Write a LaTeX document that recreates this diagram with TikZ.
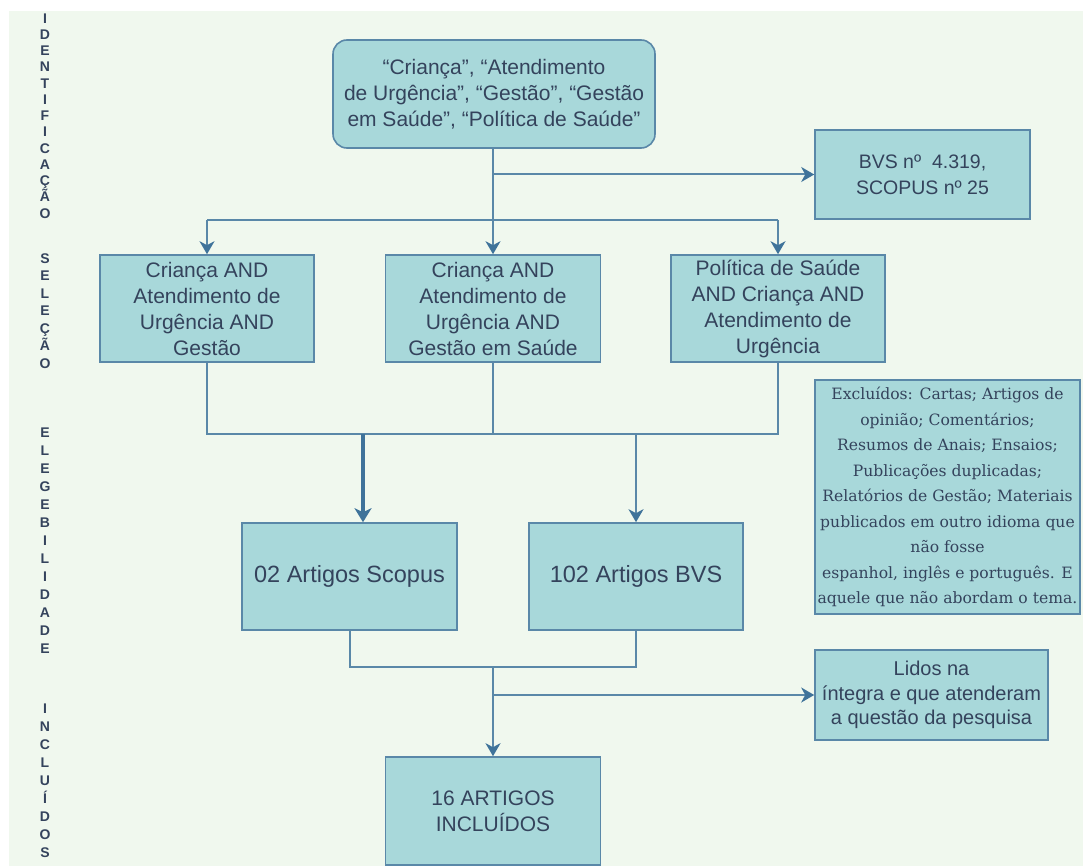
\documentclass[tikz,border=0pt]{standalone}
\usepackage{fontspec}
\setmainfont{Liberation Sans}
\newfontfamily\serifx{DejaVu Serif}
\usetikzlibrary{arrows.meta}
\definecolor{bgc}{HTML}{F0F8EE}
\definecolor{boxc}{HTML}{A8D8DA}
\definecolor{edgec}{HTML}{5A88A8}
\definecolor{linec}{HTML}{5A88A8}
\definecolor{tipc}{HTML}{3F739A}
\definecolor{txtc}{HTML}{34435C}
\tikzset{
  boxst/.style={draw=edgec, line width=1.6pt, fill=boxc, text=txtc, align=center, inner sep=0pt},
  bigtxt/.style={font=\fontsize{21}{26}\selectfont},
  midtxt/.style={font=\fontsize{20}{24.5}\selectfont},
  conn/.style={draw=linec, line width=2pt},
  arr/.style={conn, -{Stealth[length=13pt,width=15pt,inset=4pt,color=tipc]}},
  thickarr/.style={draw=tipc, line width=3.4pt, -{Stealth[length=14pt,width=17pt,inset=4pt,color=tipc]}},
  sidet/.style={text=txtc, align=center, inner sep=0pt, font=\bfseries\fontsize{14}{16.25}\selectfont}
}
\begin{document}
\begin{tikzpicture}[x=1pt,y=-1pt]
\useasboundingbox (0,0) rectangle (1083,866);
\fill[white] (0,0) rectangle (1083,866);
\fill[bgc] (9,11) rectangle (1083,866);

% side labels
\node[sidet] (s1) at (45,116) {I\\D\\E\\N\\T\\I\\F\\I\\C\\A\\Ç\\Ã\\O};
\node[sidet, font=\bfseries\fontsize{14}{17.5}\selectfont] (s2) at (45,311) {S\\E\\L\\E\\Ç\\Ã\\O};
\node[sidet, font=\bfseries\fontsize{14}{18}\selectfont] (s3) at (45,541) {E\\L\\E\\G\\E\\B\\I\\L\\I\\D\\A\\D\\E};
\node[sidet, font=\bfseries\fontsize{14}{18}\selectfont] (s4) at (45,781) {I\\N\\C\\L\\U\\Í\\D\\O\\S};

% boxes
\node[boxst, bigtxt, rounded corners=14pt, minimum width=322pt, minimum height=108pt] (top) at (494,94)
  {“Criança”, “Atendimento\\de Urgência”, “Gestão”, “Gestão\\em Saúde”, “Política de Saúde”};
\node[boxst, font=\fontsize{19.5}{26}\selectfont, minimum width=215pt, minimum height=89pt] (bvs) at (922.5,174.5)
  {BVS nº\ \ 4.319,\\SCOPUS nº 25};
\node[boxst, bigtxt, minimum width=214pt, minimum height=107pt] (b1) at (207,308.5)
  {Criança AND\\Atendimento de\\Urgência AND\\Gestão};
\node[boxst, bigtxt, minimum width=215pt, minimum height=107pt] (b2) at (493,308.5)
  {Criança AND\\Atendimento de\\Urgência AND\\Gestão em Saúde};
\node[boxst, bigtxt, minimum width=214pt, minimum height=107pt] (b3) at (778,308.5)
  {Política de Saúde\\AND Criança AND\\Atendimento de\\Urgência};
\node[boxst, font=\serifx\fontsize{15.6}{25.5}\selectfont, minimum width=265pt, minimum height=234pt] (excl) at (947.5,497)
  {Excluídos: Cartas; Artigos de\\opinião; Comentários;\\Resumos de Anais; Ensaios;\\Publicações duplicadas;\\Relatórios de Gestão; Materiais\\publicados em outro idioma que\\não fosse\\espanhol, inglês e português. E\\aquele que não abordam o tema.};
\node[boxst, font=\fontsize{23.5}{28}\selectfont, minimum width=215pt, minimum height=107pt] (sco) at (349.5,576.5)
  {02 Artigos Scopus};
\node[boxst, font=\fontsize{23.5}{28}\selectfont, minimum width=214pt, minimum height=107pt] (bv2) at (636,576.5)
  {102 Artigos BVS};
\node[boxst, midtxt, minimum width=233pt, minimum height=90pt] (lidos) at (931.5,695)
  {Lidos na\\íntegra e que atenderam\\a questão da pesquisa};
\node[boxst, bigtxt, minimum width=215pt, minimum height=108pt] (res) at (493,811)
  {16 ARTIGOS\\INCLUÍDOS};

% connectors
\coordinate (j1) at (493,220);
\coordinate (j2) at (493,434);
\coordinate (a1) at (363,434);
\coordinate (j3) at (493,667);

\draw[conn] (top.south -| j1) -- (j1);
\draw[arr] (top.south -| j1) |- (bvs.west);
\draw[conn] (b1.north |- j1) -- (b3.north |- j1);
\draw[arr] (b1.north |- j1) -- (b1.north);
\draw[arr] (j1) -- (b2.north);
\draw[arr] (b3.north |- j1) -- (b3.north);

\draw[conn] (b1.south) -- (b1.south |- j2) -- (b3.south |- j2) -- (b3.south);
\draw[conn] (b2.south) -- (b2.south |- j2);
\draw[thickarr] (a1) -- (a1 |- sco.north);
\draw[arr] (bv2.north |- j2) -- (bv2.north);

\draw[conn] (sco.south) -- (sco.south |- j3) -- (bv2.south |- j3) -- (bv2.south);
\draw[arr] (j3) -- (res.north);
\draw[arr] (j3 |- lidos.west) -- (lidos.west);
\end{tikzpicture}
\end{document}
